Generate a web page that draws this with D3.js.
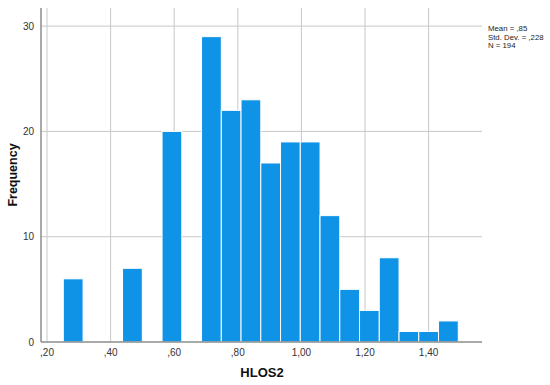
<!DOCTYPE html>
<html>
<head>
<meta charset="utf-8">
<script src="https://cdn.jsdelivr.net/npm/d3@7/dist/d3.min.js"></script>
<style>
  body { margin: 0; background: #fff; }
  svg { display: block; font-family: "Liberation Sans", Arial, sans-serif; }
</style>
</head>
<body>
<svg id="chart"></svg>
<script>
// histogram bins (SPSS auto binning)
const binStart = 0.2513;
const binWidth = 0.0621;
const counts = [6, 0, 0, 7, 0, 20, 0, 29, 22, 23, 17, 19, 19, 12, 5, 3, 8, 1, 1, 2];
const xTicks = [0.2, 0.4, 0.6, 0.8, 1.0, 1.2, 1.4];
const yTicks = [0, 10, 20, 30];
const statsLines = ["Mean = ,85", "Std. Dev. = ,228", "N = 194"];

const W = 550, H = 385;
const plotL = 41, plotR = 482, plotT = 8, plotB = 342;

const svg = d3.select("#chart").attr("width", W).attr("height", H);

// x: ,20 sits at 47px, 0.1 = 31.8px
const x = d3.scaleLinear()
    .domain([0.2 - (47 - plotL) / 318, 0.2 + (plotR - 47) / 318])
    .range([plotL, plotR]);
const y = d3.scaleLinear()
    .domain([0, (plotB - plotT) / 10.53])
    .range([plotB, plotT]);

const fmt = d => d3.format(".2f")(d).replace(/^0\./, ".").replace(".", ",");

// gridlines
svg.append("g").selectAll("line")
    .data(xTicks).join("line")
    .attr("x1", d => x(d)).attr("x2", d => x(d))
    .attr("y1", plotT).attr("y2", plotB)
    .attr("stroke", "#c8c8c8").attr("stroke-width", 1);
svg.append("g").selectAll("line")
    .data(yTicks.filter(d => d > 0)).join("line")
    .attr("x1", plotL).attr("x2", plotR)
    .attr("y1", d => y(d)).attr("y2", d => y(d))
    .attr("stroke", "#c8c8c8").attr("stroke-width", 1);

// bars
const bins = counts.map((c, i) => ({ x0: binStart + i * binWidth, x1: binStart + (i + 1) * binWidth, n: c }))
    .filter(b => b.n > 0);
svg.append("g").selectAll("rect")
    .data(bins).join("rect")
    .attr("x", d => x(d.x0))
    .attr("width", d => x(d.x1) - x(d.x0))
    .attr("y", d => y(d.n))
    .attr("height", d => y(0) - y(d.n))
    .attr("fill", "#0f93e6")
    .attr("stroke", "#ffffff")
    .attr("stroke-width", 1);

// axes lines
svg.append("line")
    .attr("x1", plotL).attr("x2", plotL).attr("y1", plotT).attr("y2", plotB)
    .attr("stroke", "#8c8c8c").attr("stroke-width", 1.5);
svg.append("line")
    .attr("x1", plotL).attr("x2", plotR).attr("y1", plotB).attr("y2", plotB)
    .attr("stroke", "#8c8c8c").attr("stroke-width", 1.5);

// tick labels
svg.append("g").selectAll("text")
    .data(yTicks).join("text")
    .attr("x", 34).attr("y", d => y(d) + 3.5)
    .attr("text-anchor", "end")
    .attr("font-size", 10).attr("fill", "#333")
    .text(d => d);
svg.append("g").selectAll("text")
    .data(xTicks).join("text")
    .attr("x", d => x(d)).attr("y", 355.5)
    .attr("text-anchor", "middle")
    .attr("font-size", 10).attr("fill", "#333")
    .text(fmt);

// axis titles
svg.append("text")
    .attr("x", 262).attr("y", 377)
    .attr("text-anchor", "middle")
    .attr("font-size", 13).attr("font-weight", "bold").attr("fill", "#111")
    .text("HLOS2");
svg.append("text")
    .attr("transform", "translate(17,175) rotate(-90)")
    .attr("text-anchor", "middle")
    .attr("font-size", 12.5).attr("font-weight", "bold").attr("fill", "#111")
    .text("Frequency");

// stats box
svg.append("g").selectAll("text")
    .data(statsLines).join("text")
    .attr("x", 488).attr("y", (d, i) => 31 + i * 8.6)
    .attr("font-size", 7.8).attr("fill", "#222")
    .text(d => d);
</script>
</body>
</html>
